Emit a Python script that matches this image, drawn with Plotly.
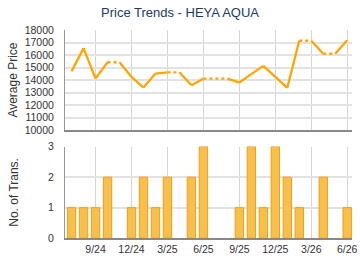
import plotly.graph_objects as go

months = ["7/24","8/24","9/24","10/24","11/24","12/24","1/25","2/25","3/25","4/25","5/25","6/25",
          "7/25","8/25","9/25","10/25","11/25","12/25","1/26","2/26","3/26","4/26","5/26","6/26"]
prices = [14700,16550,14110,15420,None,14250,13400,14520,14620,None,13580,14110,
          None,None,13800,14470,15130,14250,13380,17140,None,16100,None,17180]
counts = [1,1,1,2,0,1,2,1,2,0,2,3,0,0,1,3,1,3,2,1,0,2,0,1]
tick_idx = [2,5,8,11,14,17,20,23]
tick_text = ["9/24","12/24","3/25","6/25","9/25","12/25","3/26","6/26"]

x = list(range(len(months)))
# carry forward for missing months
filled = []
last = None
for p in prices:
    if p is not None:
        last = p
    filled.append(last)

sx, sy, dx, dy = [], [], [], []
for i in range(len(x) - 1):
    seg_x = [x[i], x[i+1]]
    seg_y = [filled[i], filled[i+1]]
    if prices[i+1] is None:
        dx += seg_x + [None]; dy += seg_y + [None]
    else:
        sx += seg_x + [None]; sy += seg_y + [None]

orange = "#FFA500"
fig = go.Figure()
fig.add_trace(go.Scatter(x=sx, y=sy, mode="lines", line=dict(color=orange, width=2.3),
                         xaxis="x", yaxis="y", hoverinfo="skip"))
fig.add_trace(go.Scatter(x=dx, y=dy, mode="lines", line=dict(color=orange, width=2.3, dash="dot"),
                         xaxis="x", yaxis="y", hoverinfo="skip"))
bx = [i for i, c in enumerate(counts) if c > 0]
by = [c for c in counts if c > 0]
fig.add_trace(go.Bar(x=bx, y=by, width=0.7, marker=dict(color="#F8C04A", line=dict(color="#E8A020", width=1)),
                     xaxis="x2", yaxis="y2"))

grid = "#d6d6d6"
ff = "Arial, Liberation Sans"
tickfont = dict(family=ff, size=10.5, color="#333")
xcommon = dict(range=[-0.55, 23.4], tickvals=tick_idx, showgrid=True, gridcolor=grid, gridwidth=1,
               zeroline=False, showline=True, linecolor="#888", linewidth=2, ticks="", fixedrange=True)
ycommon = dict(showgrid=True, gridcolor="#e2e2e2", gridwidth=2, zeroline=False, showline=True,
               linecolor="#999", linewidth=1, tickfont=tickfont, ticks="outside", ticklen=8,
               tickcolor="rgba(0,0,0,0)", tickformat="d")
fig.update_layout(
    width=360, height=270, margin=dict(l=65, r=8, t=0, b=0),
    paper_bgcolor="white", plot_bgcolor="white", showlegend=False,
    title=dict(text="Price Trends - HEYA AQUA", x=0.5, xanchor="center", y=0.955, yanchor="middle",
               font=dict(family=ff, size=13, color="#1c3b66")),
    xaxis=dict(xcommon, domain=[0, 1], anchor="y", showticklabels=False, ticktext=tick_text),
    yaxis=dict(ycommon, domain=[0.519, 0.907], range=[10000, 18000], dtick=1000,
               title=dict(text="Average Price", font=dict(family=ff, size=12, color="#333"), standoff=4)),
    xaxis2=dict(xcommon, domain=[0, 1], anchor="y2", ticktext=tick_text, tickfont=tickfont),
    yaxis2=dict(ycommon, domain=[0.1, 0.455], range=[0, 3], dtick=1,
                title=dict(text="No. of Trans.", font=dict(family=ff, size=12, color="#333"), standoff=26)),
    bargap=0.3,
)
fig.write_html("out.html")
